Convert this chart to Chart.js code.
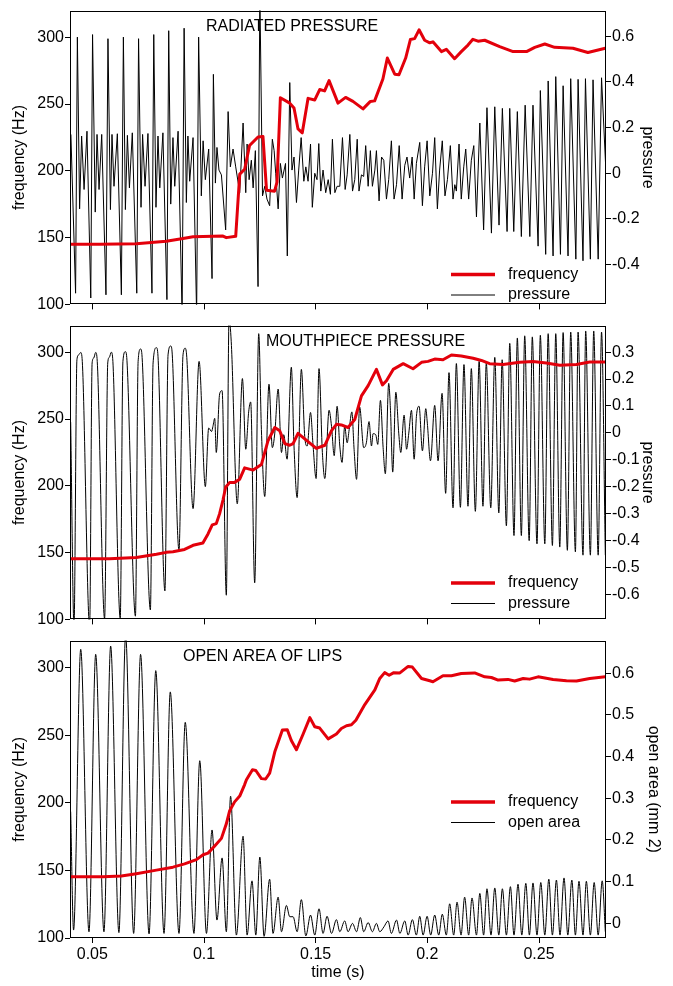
<!DOCTYPE html>
<html>
<head>
<meta charset="utf-8">
<script src="https://cdn.jsdelivr.net/npm/chart.js@4.4.1/dist/chart.umd.min.js"></script>
<style>
  html, body { margin: 0; padding: 0; background: #fff; }
  #wrap { position: relative; width: 673px; height: 986px; }
  canvas { position: absolute; left: 0; }
</style>
</head>
<body>
<div id="wrap">
  <canvas id="radiated" width="673" height="315" style="top:0px"></canvas>
  <canvas id="mouth" width="673" height="315" style="top:315px"></canvas>
  <canvas id="lips" width="673" height="356" style="top:630px"></canvas>
</div>
<script>
const RED = '#e3000b';

// tick values
const timeTicks = [0.05, 0.1, 0.15, 0.2, 0.25];
const freqTicks = [100, 150, 200, 250, 300];
const radiatedTicks = [-0.4, -0.2, 0, 0.2, 0.4, 0.6];
const mouthTicks = [-0.6, -0.5, -0.4, -0.3, -0.2, -0.1, 0, 0.1, 0.2, 0.3];
const areaTicks = [0, 0.1, 0.2, 0.3, 0.4, 0.5, 0.6];

// [time (s), value]
const radiatedFreq = [
  [0.0404,145.1],[0.0533,145.0],[0.0697,145.5],[0.0831,147.3],[0.0906,149.3],[0.0951,150.7],[0.1085,151.2],[0.1100,150.0],
  [0.1142,151.0],[0.1160,197.6],[0.1182,201.2],[0.1204,219.0],[0.1242,225.4],[0.1264,225.8],[0.1280,185.5],[0.1316,184.8],
  [0.1327,191.5],[0.1342,254.8],[0.1384,250.7],[0.1403,247.1],[0.1421,231.4],[0.1440,228.5],[0.1466,254.3],[0.1496,253.1],
  [0.1518,260.9],[0.1540,259.9],[0.1560,267.6],[0.1600,250.7],[0.1634,255.0],[0.1667,252.0],[0.1712,246.4],[0.1745,252.0],
  [0.1764,252.4],[0.1801,268.8],[0.1821,284.5],[0.1854,272.4],[0.1873,272.0],[0.1903,284.5],[0.1924,298.3],[0.1943,299.0],
  [0.1963,305.6],[0.1988,297.8],[0.2011,295.9],[0.2025,296.6],[0.2063,289.3],[0.2085,291.0],[0.2122,284.0],[0.2152,289.3],
  [0.2182,294.2],[0.2204,298.5],[0.2227,297.1],[0.2257,297.8],[0.2324,293.0],[0.2384,289.3],[0.2444,289.3],[0.2481,292.5],
  [0.2526,295.0],[0.2570,292.5],[0.2652,291.8],[0.2719,288.6],[0.2797,291.8]
];

const radiatedPressure = [
  [0.0404,0.17],[0.0425,-0.525],[0.0433,0.596],[0.0443,-0.156],[0.0452,0.163],[0.0463,-0.071],[0.0476,0.184],
  [0.0493,-0.546],[0.0501,0.607],[0.0513,-0.17],[0.0521,0.17],[0.0530,-0.071],[0.0542,0.17],
  [0.0561,-0.532],[0.0570,0.589],[0.0581,-0.159],[0.0588,0.17],[0.0597,-0.057],[0.0612,0.173],
  [0.0630,-0.532],[0.0639,0.596],[0.0648,-0.159],[0.0657,0.166],[0.0666,-0.064],[0.0679,0.177],
  [0.0699,-0.525],[0.0707,0.589],[0.0718,-0.149],[0.0725,0.17],[0.0736,-0.057],[0.0749,0.174],
  [0.0767,-0.525],[0.0775,0.607],[0.0785,-0.149],[0.0794,0.163],[0.0802,-0.064],[0.0816,0.177],
  [0.0834,-0.553],[0.0842,0.624],[0.0851,-0.135],[0.0861,0.156],[0.0869,-0.057],[0.0884,0.184],
  [0.0902,-0.62],[0.0911,0.635],[0.0921,-0.128],[0.0928,0.163],[0.0936,-0.035],[0.0951,0.156],
  [0.0967,-0.62],[0.0976,0.596],[0.0988,-0.099],[0.0996,0.142],[0.1006,-0.028],[0.1021,0.106],
  [0.1036,-0.461],[0.1042,0.433],[0.1051,-0.043],[0.1058,0.113],[0.1067,0.014],[0.1078,-0.007],
  [0.1097,-0.248],[0.1108,0.27],[0.1118,0.028],[0.1130,0.106],[0.1142,0.028],[0.1160,-0.085],
  [0.1175,0.22],[0.1187,-0.085],[0.1193,0.128],[0.1202,-0.028],[0.1212,0.057],[0.1220,-0.064],[0.1230,0.099],
  [0.1242,-0.496],[0.1250,0.8],[0.1262,-0.099],[0.1272,-0.057],[0.1282,-0.113],[0.1294,-0.142],[0.1306,0.149],
  [0.1314,0.099],[0.1321,0],[0.1332,-0.156],[0.1342,0.043],[0.1351,-0.021],[0.1365,0.043],[0.1373,-0.362],
  [0.1384,0.397],[0.1394,0.014],[0.1403,0.071],[0.1414,-0.128],[0.1424,0.014],[0.1435,0.156],[0.1447,-0.035],
  [0.1456,0.028],[0.1466,-0.035],[0.1477,0.128],[0.1485,-0.149],[0.1496,0],[0.1506,-0.028],[0.1514,0.13],
  [0.1523,-0.078],[0.1533,0.014],[0.1545,-0.085],[0.1556,-0.028],[0.1566,-0.092],[0.1575,0.149],[0.1586,-0.085],
  [0.1596,-0.057],[0.1608,-0.057],[0.1620,0.156],[0.1632,-0.071],[0.1641,-0.007],[0.1653,0.17],[0.1665,-0.078],
  [0.1675,-0.028],[0.1686,0.149],[0.1694,-0.078],[0.1705,-0.007],[0.1715,-0.014],[0.1724,0.121],[0.1735,-0.057],
  [0.1745,0.099],[0.1754,-0.057],[0.1765,0.014],[0.1772,0.099],[0.1784,-0.121],[0.1795,0.071],[0.1805,0.057],
  [0.1817,-0.113],[0.1827,-0.028],[0.1839,0.142],[0.1851,-0.113],[0.1862,-0.05],[0.1874,0.121],[0.1887,-0.113],
  [0.1899,0.035],[0.1909,0.071],[0.1921,-0.021],[0.1932,0.071],[0.1941,-0.113],[0.1951,0.043],[0.1966,0.135],
  [0.1978,-0.142],[0.1988,0.028],[0.1999,0.142],[0.2011,-0.099],[0.2023,0],[0.2033,0.156],[0.2045,-0.156],
  [0.2055,0.014],[0.2067,0.142],[0.2079,-0.099],[0.2090,-0.028],[0.2103,0.121],[0.2115,-0.113],[0.2123,-0.05],
  [0.2130,-0.078],[0.2142,0.128],[0.2152,-0.113],[0.2163,0.028],[0.2172,0.106],[0.2185,-0.113],[0.2197,0.057],
  [0.2208,0.121],[0.2220,-0.191],[0.2235,0.22],[0.2252,-0.248],[0.2267,0.287],[0.2287,-0.262],[0.2302,0.291],
  [0.2321,-0.227],[0.2336,0.284],[0.2357,-0.255],[0.2369,0.284],[0.2387,-0.255],[0.2403,0.27],[0.2421,-0.277],
  [0.2438,0.298],[0.2459,-0.277],[0.2473,0.298],[0.2496,-0.319],[0.2506,0.362],[0.2530,-0.355],[0.2541,0.404],
  [0.2563,-0.362],[0.2575,0.423],[0.2596,-0.355],[0.2608,0.383],[0.2630,-0.362],[0.2642,0.414],[0.2665,-0.376],
  [0.2675,0.411],[0.2697,-0.383],[0.2708,0.414],[0.2730,-0.376],[0.2742,0.409],[0.2765,-0.376],[0.2780,0.418],
  [0.2800,0]
];

const mouthFreq = [
  [0.0404,145.4],[0.0577,145.4],[0.0697,146.4],[0.0787,148.8],[0.0831,150.2],[0.0861,150.7],[0.0913,152.4],[0.0951,155.5],
  [0.0995,157.2],[0.1018,164.0],[0.1037,170.8],[0.1055,171.7],[0.1070,179.2],[0.1085,189.4],[0.1097,199.0],[0.1115,202.6],
  [0.1137,202.6],[0.1160,205.0],[0.1182,213.5],[0.1220,211.8],[0.1257,215.9],[0.1287,234.0],[0.1317,243.7],[0.1339,241.3],
  [0.1362,231.6],[0.1384,230.4],[0.1399,231.6],[0.1421,239.3],[0.1451,235.2],[0.1481,231.1],[0.1503,228.0],[0.1541,230.4],
  [0.1571,241.3],[0.1593,246.1],[0.1615,245.6],[0.1645,243.7],[0.1675,249.7],[0.1705,267.4],[0.1735,275.1],[0.1772,287.2],
  [0.1799,275.6],[0.1817,278.7],[0.1847,287.2],[0.1892,291.5],[0.1936,287.7],[0.1974,292.5],[0.2003,293.2],[0.2033,294.9],
  [0.2070,294.4],[0.2108,298.0],[0.2152,297.3],[0.2205,295.6],[0.2242,293.9],[0.2279,291.5],[0.2339,290.8],[0.2414,292.5],
  [0.2473,293.2],[0.2533,292.0],[0.2593,290.3],[0.2667,290.8],[0.2727,292.7],[0.2797,292.7]
];

const mouthPressure = [
  [0.0403,0.04],[0.0418,-0.72],[0.0431,0.272],[0.0439,0.29],[0.0448,0.299],[0.0455,0.266],
  [0.0488,-0.72],[0.0499,0.26],[0.0506,0.278],[0.0515,0.299],[0.0522,0.266],
  [0.0555,-0.692],[0.0569,0.26],[0.0576,0.281],[0.0585,0.3],[0.0592,0.266],
  [0.0625,-0.69],[0.0637,0.266],[0.0648,0.302],[0.0655,0.27],
  [0.0693,-0.682],[0.0705,0.266],[0.0716,0.312],[0.0723,0.28],
  [0.0760,-0.659],[0.0772,0.26],[0.0787,0.317],[0.0794,0.285],
  [0.0825,-0.588],[0.0839,0.29],[0.0851,0.323],[0.0858,0.29],
  [0.0888,-0.437],[0.0906,0.29],[0.0916,0.315],[0.0923,0.28],
  [0.0951,-0.282],[0.0978,0.266],[0.1006,-0.2],[0.1021,0.018],[0.1034,0.005],[0.1040,0.024],[0.1048,0.054],
  [0.1055,-0.073],[0.1070,0.145],[0.1081,0.157],[0.1100,-0.604],[0.1112,0.42],[0.1122,0.339],[0.1149,-0.264],
  [0.1172,0.202],[0.1187,-0.061],[0.1200,0.078],[0.1209,0.115],[0.1227,-0.558],[0.1245,0.369],[0.1257,0.012],
  [0.1272,-0.237],[0.1291,0.181],[0.1306,-0.055],[0.1317,-0.001],[0.1332,0.163],[0.1347,-0.073],[0.1357,-0.007],
  [0.1372,-0.098],[0.1391,0.244],[0.1403,-0.049],[0.1417,-0.241],[0.1436,0.236],[0.1451,-0.013],[0.1462,-0.049],
  [0.1477,0.076],[0.1488,-0.043],[0.1502,-0.17],[0.1515,0.239],[0.1530,-0.073],[0.1541,-0.17],[0.1560,0.084],
  [0.1571,0.024],[0.1583,-0.085],[0.1596,0.099],[0.1608,-0.049],[0.1618,-0.11],[0.1630,0.024],[0.1641,-0.037],
  [0.1650,0.012],[0.1662,0.078],[0.1672,-0.061],[0.1683,-0.173],[0.1697,0.096],[0.1715,-0.055],[0.1727,-0.037],
  [0.1739,0.042],[0.1750,-0.049],[0.1757,-0.003],[0.1769,-0.007],[0.1778,-0.043],[0.1790,0.121],[0.1802,-0.055],
  [0.1812,-0.152],[0.1827,0.184],[0.1835,0.084],[0.1845,-0.146],[0.1859,0.151],[0.1872,-0.001],[0.1881,-0.073],
  [0.1896,0.066],[0.1907,-0.061],[0.1917,-0.001],[0.1929,0.084],[0.1941,-0.098],[0.1951,0.06],[0.1963,0.099],
  [0.1978,-0.067],[0.1993,0.09],[0.2000,0.036],[0.2014,-0.104],[0.2033,0.102],[0.2048,-0.104],[0.2066,0.147],
  [0.2082,-0.225],[0.2097,0.224],[0.2115,-0.279],[0.2130,0.258],[0.2148,-0.277],[0.2164,0.254],[0.2182,-0.273],
  [0.2197,0.239],[0.2215,-0.292],[0.2232,0.266],[0.2249,-0.273],[0.2264,0.26],[0.2284,-0.279],[0.2302,0.281],
  [0.2320,-0.298],[0.2335,0.272],[0.2354,-0.346],[0.2369,0.333],[0.2388,-0.382],[0.2403,0.353],[0.2421,-0.382],
  [0.2436,0.361],[0.2456,-0.401],[0.2470,0.357],[0.2491,-0.413],[0.2506,0.363],[0.2526,-0.413],[0.2541,0.369],
  [0.2560,-0.419],[0.2575,0.369],[0.2593,-0.425],[0.2608,0.373],[0.2627,-0.437],[0.2642,0.375],[0.2663,-0.443],
  [0.2675,0.375],[0.2697,-0.455],[0.2709,0.379],[0.2730,-0.455],[0.2745,0.379],[0.2765,-0.455],[0.2780,0.375],
  [0.2797,-0.455]
];

const lipsFreq = [
  [0.0404,145.4],[0.0548,145.4],[0.0630,145.9],[0.0697,147.6],[0.0787,150.2],[0.0861,152.4],[0.0913,154.8],[0.0966,158.0],
  [0.0996,161.6],[0.1018,162.8],[0.1048,168.1],[0.1078,173.7],[0.1100,184.5],[0.1115,194.2],[0.1137,200.7],[0.1160,205.0],
  [0.1182,213.5],[0.1190,217.1],[0.1217,224.4],[0.1232,223.9],[0.1257,217.9],[0.1276,217.6],[0.1294,222.0],[0.1317,237.7],
  [0.1351,253.8],[0.1373,254.1],[0.1391,246.1],[0.1414,239.3],[0.1444,250.9],[0.1474,263.0],[0.1496,256.3],[0.1518,255.3],
  [0.1556,247.3],[0.1593,250.9],[0.1615,255.0],[0.1638,257.0],[0.1660,257.7],[0.1680,261.1],[0.1720,272.7],[0.1765,283.5],
  [0.1787,292.0],[0.1809,296.3],[0.1829,294.4],[0.1850,296.3],[0.1877,296.1],[0.1914,300.9],[0.1933,300.4],[0.1974,292.0],
  [0.2011,290.3],[0.2025,289.6],[0.2070,294.0],[0.2108,294.0],[0.2152,295.6],[0.2212,296.1],[0.2257,293.2],[0.2287,292.7],
  [0.2317,290.8],[0.2361,291.3],[0.2391,290.1],[0.2429,292.0],[0.2458,291.5],[0.2496,293.2],[0.2563,291.3],[0.2623,290.3],
  [0.2668,290.1],[0.2727,292.0],[0.2797,293.2]
];

const lipsArea = [
  [0.0403,0.268],[0.0416,-0.016],[0.0448,0.657],[0.0485,-0.02],[0.0515,0.645],[0.0552,-0.02],[0.0582,0.665],
  [0.0619,-0.022],[0.0649,0.69],[0.0685,-0.024],[0.0716,0.645],[0.0754,-0.025],[0.0784,0.606],[0.0821,-0.024],
  [0.0849,0.555],[0.0888,-0.024],[0.0916,0.482],[0.0955,-0.024],[0.0981,0.39],[0.1011,-0.024],[0.1036,0.224],
  [0.1058,0.008],[0.1081,0.157],[0.1100,-0.02],[0.1119,0.305],[0.1145,-0.028],[0.1175,0.209],[0.1193,-0.028],
  [0.1215,0.102],[0.1232,-0.028],[0.1250,0.159],[0.1269,-0.031],[0.1294,0.106],[0.1309,-0.024],[0.1332,0.063],
  [0.1347,-0.02],[0.1369,0.043],[0.1384,0.016],[0.1399,0.016],[0.1417,-0.02],[0.1436,0.057],[0.1456,-0.03],
  [0.1477,0.02],[0.1496,-0.028],[0.1515,0.035],[0.1533,-0.024],[0.1551,0.017],[0.1571,-0.024],[0.1593,0.009],
  [0.1608,-0.02],[0.1630,0.006],[0.1645,-0.02],[0.1665,0],[0.1683,-0.02],[0.1700,0.014],[0.1715,-0.02],
  [0.1735,0.002],[0.1754,-0.02],[0.1772,0],[0.1787,-0.02],[0.1806,-0.008],[0.1824,0.006],[0.1839,-0.024],
  [0.1862,0.008],[0.1877,-0.024],[0.1899,0.006],[0.1914,-0.028],[0.1933,0.009],[0.1951,-0.028],[0.1966,0.017],
  [0.1981,-0.028],[0.1999,0.017],[0.2015,-0.028],[0.2033,0.02],[0.2051,-0.028],[0.2067,0.022],[0.2085,-0.028],
  [0.2100,0.047],[0.2118,-0.028],[0.2133,0.051],[0.2151,-0.028],[0.2167,0.063],[0.2185,-0.028],[0.2200,0.061],
  [0.2220,-0.028],[0.2235,0.072],[0.2252,-0.028],[0.2267,0.083],[0.2285,-0.028],[0.2302,0.085],[0.2320,-0.028],
  [0.2336,0.083],[0.2354,-0.028],[0.2372,0.088],[0.2388,-0.028],[0.2406,0.094],[0.2423,-0.028],[0.2441,0.096],
  [0.2457,-0.028],[0.2473,0.097],[0.2491,-0.028],[0.2508,0.098],[0.2526,-0.028],[0.2544,0.106],[0.2560,-0.028],
  [0.2578,0.104],[0.2594,-0.028],[0.2612,0.109],[0.2629,-0.028],[0.2647,0.104],[0.2663,-0.028],[0.2679,0.101],
  [0.2697,-0.028],[0.2712,0.101],[0.2730,-0.028],[0.2747,0.098],[0.2765,-0.028],[0.2783,0.102],[0.2797,-0.02]
];

Chart.defaults.font.family = '"Liberation Sans", Arial, Helvetica, sans-serif';
Chart.defaults.font.size = 16;
Chart.defaults.color = '#000';

function toXY(rows) {
  return rows.map(function (r) { return { x: r[0], y: r[1] }; });
}

function fixedTicks(values) {
  return function (scale) {
    scale.ticks = values.map(function (v) { return { value: v }; });
  };
}

function fmt(value) {
  return String(Math.round(value * 100) / 100);
}

// panel title, in-plot legend and the box round the plot area
const panelLabels = {
  id: 'panelLabels',
  afterDraw: function (chart, args, opts) {
    const ctx = chart.ctx;
    const a = chart.chartArea;
    ctx.save();
    ctx.font = '16px "Liberation Sans", Arial, sans-serif';
    ctx.fillStyle = '#000';
    ctx.textBaseline = 'middle';
    ctx.textAlign = 'left';
    ctx.fillText(opts.title, opts.titleX, opts.titleY);

    chart.data.datasets.forEach(function (ds, i) {
      const y = opts.legendY + i * opts.legendGap;
      ctx.beginPath();
      ctx.strokeStyle = ds.borderColor;
      ctx.lineWidth = ds.borderWidth === 3 ? 3.5 : 1;
      ctx.moveTo(opts.legendX, y);
      ctx.lineTo(opts.legendX + 44, y);
      ctx.stroke();
      ctx.fillText(ds.label, opts.legendX + 57, y);
    });

    ctx.strokeStyle = '#000';
    ctx.lineWidth = 1;
    const l = Math.round(a.left) + 0.5, t = Math.round(a.top) + 0.5;
    const r = Math.round(a.right) - 0.5, b = Math.round(a.bottom) - 0.5;
    ctx.strokeRect(l, t, r - l, b - t);
    ctx.restore();
  }
};

const axisGrid = { drawOnChartArea: false, drawTicks: true, tickLength: 5, tickColor: '#000', tickWidth: 1 };

function makePanel(id, cfg) {
  return new Chart(document.getElementById(id), {
    type: 'line',
    data: {
      datasets: [
        {
          label: 'frequency', data: toXY(cfg.freq), yAxisID: 'yL',
          borderColor: RED, borderWidth: 3, pointRadius: 0, tension: 0,
          borderJoinStyle: 'round', order: 0
        },
        {
          label: cfg.label, data: toXY(cfg.signal), yAxisID: 'yR',
          borderColor: '#000', borderWidth: 1, pointRadius: 0,
          tension: cfg.smooth ? 0.4 : 0,
          cubicInterpolationMode: cfg.smooth ? 'monotone' : 'default',
          order: 1
        }
      ]
    },
    options: {
      responsive: false,
      animation: false,
      events: [],
      layout: { padding: { top: 6, left: 0, right: 0, bottom: 0 } },
      plugins: {
        legend: { display: false },
        tooltip: { enabled: false },
        panelLabels: {
          title: cfg.title, titleX: cfg.titleX, titleY: 26.5,
          legendX: 451, legendY: cfg.legendY, legendGap: 20.5
        }
      },
      scales: {
        x: {
          type: 'linear', position: 'bottom', min: 0.04, max: 0.28,
          afterBuildTicks: fixedTicks(timeTicks),
          afterFit: function (s) { s.height = cfg.xHeight; },
          grid: axisGrid,
          border: { display: false },
          ticks: { display: cfg.showX, padding: 2, maxRotation: 0, autoSkip: false, callback: fmt },
          title: { display: cfg.showX, text: 'time (s)', padding: { top: 0, bottom: 4 } }
        },
        yL: {
          type: 'linear', position: 'left', min: 100, max: 320,
          afterBuildTicks: fixedTicks(freqTicks),
          afterFit: function (s) { s.width = 70; },
          grid: axisGrid,
          border: { display: false },
          ticks: { padding: 1, callback: fmt },
          title: { display: true, text: 'frequency (Hz)', padding: { top: 10, bottom: 0 } }
        },
        yR: {
          type: 'linear', position: 'right', min: cfg.rMin, max: cfg.rMax,
          afterBuildTicks: fixedTicks(cfg.rTicks),
          afterFit: function (s) { s.width = 67; },
          grid: axisGrid,
          border: { display: false },
          ticks: { padding: 1, callback: fmt },
          title: { display: true, text: cfg.rTitle, padding: { top: cfg.rTitlePad, bottom: 0 } }
        }
      }
    },
    plugins: [panelLabels]
  });
}

makePanel('radiated', {
  freq: radiatedFreq, signal: radiatedPressure, label: 'pressure', smooth: false,
  title: 'RADIATED PRESSURE', titleX: 206, legendY: 274.5,
  rMin: -0.574, rMax: 0.712, rTicks: radiatedTicks, rTitle: 'pressure', rTitlePad: 16,
  xHeight: 7, showX: false
});

makePanel('mouth', {
  freq: mouthFreq, signal: mouthPressure, label: 'pressure', smooth: true,
  title: 'MOUTHPIECE PRESSURE', titleX: 266, legendY: 268,
  rMin: -0.694, rMax: 0.399, rTicks: mouthTicks, rTitle: 'pressure', rTitlePad: 16,
  xHeight: 7, showX: false
});

makePanel('lips', {
  freq: lipsFreq, signal: lipsArea, label: 'open area', smooth: true,
  title: 'OPEN AREA OF LIPS', titleX: 183, legendY: 172,
  rMin: -0.035, rMax: 0.678, rTicks: areaTicks, rTitle: 'open area (mm 2)', rTitlePad: 10,
  xHeight: 48, showX: true
});
</script>
</body>
</html>
